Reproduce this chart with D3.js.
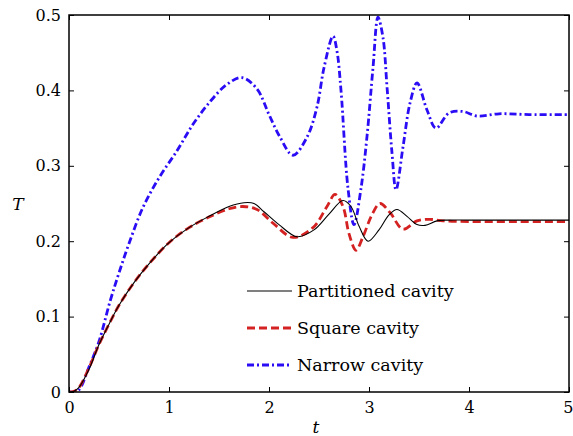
<!DOCTYPE html>
<html>
<head>
<meta charset="utf-8">
<script src="https://cdn.jsdelivr.net/npm/d3@7"></script>
<style>
  body { margin: 0; background: #fff; }
</style>
</head>
<body>
<div class="container"></div>
<script>
let partT = [0, 0.05, 0.1, 0.2, 0.3, 0.4, 0.5, 0.65, 0.8, 1.0, 1.2, 1.4, 1.6, 1.75, 1.85, 1.95, 2.1, 2.28, 2.45, 2.6, 2.74, 2.82, 2.9, 2.99, 3.1, 3.2, 3.28, 3.38, 3.48, 3.56, 3.68, 3.8, 4.0, 4.5, 5.0]
let partV = [0, 0.001, 0.006, 0.03, 0.063, 0.09, 0.115, 0.145, 0.17, 0.198, 0.218, 0.233, 0.246, 0.251, 0.25, 0.239, 0.222, 0.206, 0.215, 0.236, 0.254, 0.246, 0.22, 0.2, 0.215, 0.235, 0.242, 0.233, 0.222, 0.221, 0.227, 0.228, 0.228, 0.228, 0.228]

let squareT = [0, 0.05, 0.1, 0.2, 0.3, 0.4, 0.5, 0.65, 0.8, 1.0, 1.2, 1.4, 1.6, 1.74, 1.88, 2.04, 2.24, 2.44, 2.58, 2.66, 2.74, 2.8, 2.87, 2.94, 3.03, 3.11, 3.21, 3.34, 3.48, 3.61, 3.74, 4.0, 4.5, 5.0]
let squareV = [0, 0.001, 0.006, 0.032, 0.063, 0.09, 0.115, 0.145, 0.17, 0.198, 0.218, 0.232, 0.243, 0.246, 0.242, 0.224, 0.205, 0.218, 0.246, 0.262, 0.246, 0.21, 0.188, 0.206, 0.235, 0.25, 0.238, 0.216, 0.227, 0.229, 0.227, 0.226, 0.226, 0.226]

let narrowT = [0, 0.05, 0.1, 0.2, 0.3, 0.41, 0.5, 0.6, 0.74, 0.9, 1.08, 1.24, 1.41, 1.58, 1.73, 1.88, 2.0, 2.11, 2.24, 2.38, 2.48, 2.55, 2.64, 2.68, 2.72, 2.79, 2.85, 2.92, 2.98, 3.04, 3.09, 3.14, 3.18, 3.23, 3.27, 3.34, 3.41, 3.48, 3.58, 3.67, 3.8, 3.94, 4.08, 4.3, 4.6, 5.0]
let narrowV = [0, 0.0, 0.003, 0.033, 0.067, 0.12, 0.158, 0.197, 0.245, 0.284, 0.32, 0.355, 0.385, 0.408, 0.417, 0.402, 0.368, 0.338, 0.314, 0.338, 0.378, 0.43, 0.472, 0.452, 0.40, 0.27, 0.222, 0.27, 0.339, 0.43, 0.497, 0.47, 0.405, 0.317, 0.268, 0.325, 0.383, 0.41, 0.374, 0.35, 0.37, 0.372, 0.366, 0.369, 0.368, 0.368]

let seriesNames = ["Partitioned cavity", "Square cavity", "Narrow cavity"]
let xTicks = [0, 1, 2, 3, 4, 5]
let yTicks = [0, 0.1, 0.2, 0.3, 0.4, 0.5]

let width = 573
let height = 436
let plotLeft = 69, plotRight = 569, plotTop = 15, plotBottom = 392
let serif = "'DejaVu Serif', serif"

let svg = d3.select(".container")
  .append("svg")
  .attr("width", width)
  .attr("height", height)

let x = d3.scaleLinear().domain([0, 5]).range([plotLeft, plotRight])
let y = d3.scaleLinear().domain([0, 0.5]).range([plotBottom, plotTop])

let styles = [
  { color: "#000000", width: 1.1, dash: null },
  { color: "#d42222", width: 2.8, dash: "8,4" },
  { color: "#2a0cf5", width: 2.8, dash: "7,3,2,3" }
]

let data = [
  partT.map((t, i) => [t, partV[i]]),
  squareT.map((t, i) => [t, squareV[i]]),
  narrowT.map((t, i) => [t, narrowV[i]])
]

let line = d3.line()
  .x(function (d) { return x(d[0]); })
  .y(function (d) { return y(d[1]); })
  .curve(d3.curveCatmullRom.alpha(0.5))

svg.append("defs").append("clipPath").attr("id", "clip")
  .append("rect")
  .attr("x", plotLeft).attr("y", plotTop - 2)
  .attr("width", plotRight - plotLeft).attr("height", plotBottom - plotTop + 2)

// narrow first, then square, partitioned on top
let order = [2, 1, 0]
order.forEach(function (k) {
  svg.append("path")
    .datum(data[k])
    .attr("clip-path", "url(#clip)")
    .attr("d", line)
    .attr("fill", "none")
    .attr("stroke", styles[k].color)
    .attr("stroke-width", styles[k].width)
    .attr("stroke-dasharray", styles[k].dash)
})

// axes, ticks inward on all four sides
let tickLen = 5
let xAxisG = svg.append("g")
  .attr("transform", `translate(0,${plotBottom})`)
  .call(d3.axisBottom(x).tickValues(xTicks).tickSizeInner(-tickLen).tickSizeOuter(0).tickPadding(10).tickFormat(d3.format("d")))
svg.append("g")
  .attr("transform", `translate(0,${plotTop})`)
  .call(d3.axisTop(x).tickValues(xTicks).tickSizeInner(-tickLen).tickSizeOuter(0).tickFormat(""))
svg.append("g")
  .attr("transform", `translate(${plotLeft},0)`)
  .call(d3.axisLeft(y).tickValues(yTicks).tickSizeInner(-tickLen).tickSizeOuter(0).tickPadding(8).tickFormat(function (d) { return d === 0 ? "0" : d3.format(".1f")(d); }))
svg.append("g")
  .attr("transform", `translate(${plotRight},0)`)
  .call(d3.axisRight(y).tickValues(yTicks).tickSizeInner(-tickLen).tickSizeOuter(0).tickFormat(""))

svg.selectAll(".domain").remove()
svg.selectAll("g").attr("font-family", null)
svg.selectAll(".tick line").attr("stroke", "#000").attr("stroke-width", 1)
svg.selectAll(".tick text")
  .style("font-family", serif)
  .style("font-size", "16px")
  .attr("fill", "#000")

// last x label sits on the page edge, keep it inside
xAxisG.selectAll(".tick text")
  .filter(function (d) { return d === 5; })
  .attr("text-anchor", "end")
  .attr("dx", "4")

svg.append("rect")
  .attr("x", plotLeft).attr("y", plotTop)
  .attr("width", plotRight - plotLeft).attr("height", plotBottom - plotTop)
  .attr("fill", "none")
  .attr("stroke", "#000")
  .attr("stroke-width", 1.5)

// axis labels
svg.append("text")
  .attr("x", 316).attr("y", 433)
  .attr("text-anchor", "middle")
  .style("font-family", serif)
  .style("font-size", "17px")
  .style("font-style", "italic")
  .text("t")
svg.append("text")
  .attr("x", 18).attr("y", 210)
  .attr("text-anchor", "middle")
  .style("font-family", serif)
  .style("font-size", "17px")
  .style("font-style", "italic")
  .text("T")

// legend
let legendY = [291, 328, 365]
seriesNames.forEach(function (name, k) {
  svg.append("line")
    .attr("x1", 247).attr("x2", 292)
    .attr("y1", legendY[k]).attr("y2", legendY[k])
    .attr("stroke", styles[k].color)
    .attr("stroke-width", styles[k].width)
    .attr("stroke-dasharray", styles[k].dash)
  svg.append("text")
    .attr("x", 297).attr("y", legendY[k] + 6)
    .style("font-family", serif)
    .style("font-size", "17.5px")
    .attr("fill", "#000")
    .text(name)
})
</script>
</body>
</html>
